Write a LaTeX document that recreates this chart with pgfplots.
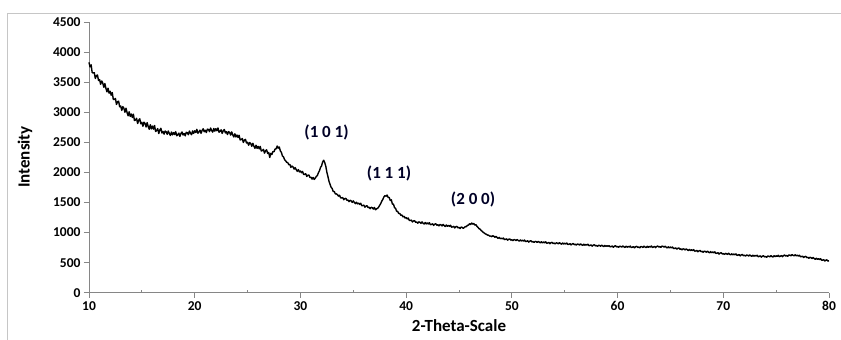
\documentclass[border=0pt]{standalone}
\usepackage{pgfplots}
\pgfplotsset{compat=1.18}
\usepackage{fontspec}
\setmainfont{Carlito}
\definecolor{axgray}{RGB}{134,134,134}
\begin{document}
\begin{tikzpicture}[x=1pt,y=1pt]
\useasboundingbox (0,0) rectangle (841,340);
\draw[gray!45, line width=0.8pt] (7,0) -- (7,327) -- (841,327);
\begin{axis}[
  at={(89pt,47.3pt)}, anchor=south west,
  scale only axis, width=740pt, height=270.4pt,
  xmin=10, xmax=80, ymin=0, ymax=4500,
  axis x line=bottom, axis y line=left,
  axis line style={-, axgray, line width=0.9pt},
  xtick={10,20,...,80}, ytick={0,500,...,4500},
  tick style={axgray, line width=0.9pt},
  major tick length=5pt, tick align=outside,
  extra x ticks={15,25,35,45,55,65,75}, extra x tick labels={},
  extra x tick style={tick align=inside, major tick length=3pt},
  ticklabel style={font=\bfseries\fontsize{13.5}{15}\selectfont, text=black},
  /pgf/number format/assume math mode=true,
  /pgf/number format/1000 sep={},
  scaled ticks=false,
  clip=false,
]
\addplot[black, line width=1.4pt, line join=round] coordinates {
(10.0,3833)(10.1,3757)(10.2,3791)(10.3,3665)(10.4,3655)(10.5,3662)(10.6,3565)(10.7,3611)(10.8,3624)(10.9,3532)
(11.0,3546)(11.1,3468)(11.2,3524)(11.3,3491)(11.4,3419)(11.5,3480)(11.6,3402)(11.7,3342)(11.8,3403)(11.9,3320)
(12.0,3353)(12.1,3287)(12.2,3331)(12.3,3215)(12.4,3215)(12.5,3232)(12.6,3133)(12.7,3177)(12.8,3188)(12.9,3094)
(13.0,3106)(13.1,3034)(13.2,3096)(13.3,3069)(13.4,3003)(13.5,3070)(13.6,2998)(13.7,2944)(13.8,3011)(13.9,2934)
(14.0,2973)(14.1,2917)(14.2,2971)(14.3,2865)(14.4,2875)(14.5,2902)(14.6,2815)(14.7,2871)(14.8,2894)(14.9,2812)
(15.0,2836)(15.1,2770)(15.2,2838)(15.3,2817)(15.4,2757)(15.5,2830)(15.6,2766)(15.7,2720)(15.8,2795)(15.9,2726)
(16.0,2773)(16.1,2723)(16.2,2783)(16.3,2683)(16.4,2699)(16.5,2732)(16.6,2649)(16.7,2709)(16.8,2736)(16.9,2658)
(17.0,2684)(17.1,2639)(17.2,2690)(17.3,2677)(17.4,2636)(17.5,2691)(17.6,2648)(17.7,2617)(17.8,2674)(17.9,2627)
(18.0,2664)(18.1,2632)(18.2,2680)(18.3,2612)(18.4,2628)(18.5,2656)(18.6,2601)(18.7,2650)(18.8,2675)(18.9,2624)
(19.0,2649)(19.1,2611)(19.2,2669)(19.3,2663)(19.4,2629)(19.5,2691)(19.6,2654)(19.7,2629)(19.8,2692)(19.9,2651)
(20.0,2694)(20.1,2666)(20.2,2718)(20.3,2654)(20.4,2674)(20.5,2706)(20.6,2652)(20.7,2702)(20.8,2728)(20.9,2678)
(21.0,2704)(21.1,2665)(21.2,2722)(21.3,2715)(21.4,2680)(21.5,2741)(21.6,2701)(21.7,2673)(21.8,2733)(21.9,2689)
(22.0,2729)(22.1,2695)(22.2,2741)(22.3,2671)(22.4,2685)(22.5,2711)(22.6,2651)(22.7,2695)(22.8,2715)(22.9,2659)
(23.0,2679)(23.1,2632)(23.2,2681)(23.3,2666)(23.4,2623)(23.5,2676)(23.6,2628)(23.7,2592)(23.8,2644)(23.9,2592)
(24.0,2624)(24.1,2582)(24.2,2620)(24.3,2542)(24.4,2548)(24.5,2566)(24.6,2500)(24.7,2538)(24.8,2552)(24.9,2490)
(25.0,2504)(25.1,2454)(25.2,2500)(25.3,2482)(25.4,2436)(25.5,2486)(25.6,2438)(25.7,2402)(25.8,2454)(25.9,2402)
(26.0,2434)(26.1,2394)(26.2,2434)(26.3,2358)(26.4,2366)(26.5,2386)(26.6,2322)(26.7,2362)(26.8,2378)(26.9,2318)
(27.0,2334)(27.1,2250)(27.2,2320)(27.3,2300)(27.4,2350)(27.5,2345)(27.6,2390)(27.7,2395)(27.8,2440)(27.9,2405)
(28.0,2425)(28.1,2360)(28.2,2335)(28.3,2275)(28.4,2260)(28.5,2215)(28.6,2195)(28.7,2170)(28.8,2165)(28.9,2130)
(29.0,2135)(29.1,2086)(29.2,2108)(29.3,2092)(29.4,2057)(29.5,2082)(29.6,2048)(29.7,2020)(29.8,2048)(29.9,2010)
(30.0,2025)(30.1,1997)(30.2,2019)(30.3,1968)(30.4,1970)(30.5,1980)(30.6,1935)(30.7,1955)(30.8,1960)(30.9,1918)
(31.0,1922)(31.1,1891)(31.2,1918)(31.3,1885)(31.4,1905)(31.5,1935)(31.6,1950)(31.7,1995)(31.8,2030)(31.9,2085)
(32.0,2110)(32.1,2175)(32.2,2205)(32.3,2165)(32.4,2105)(32.5,2005)(32.6,1935)(32.7,1855)(32.8,1805)(32.9,1755)
(33.0,1735)(33.1,1685)(33.2,1685)(33.3,1645)(33.4,1645)(33.5,1632)(33.6,1607)(33.7,1622)(33.8,1579)(33.9,1578)
(34.0,1583)(34.1,1548)(34.2,1565)(34.3,1570)(34.4,1537)(34.5,1542)(34.6,1516)(34.7,1538)(34.8,1528)(34.9,1504)
(35.0,1528)(35.1,1502)(35.2,1482)(35.3,1506)(35.4,1478)(35.5,1492)(35.6,1470)(35.7,1488)(35.8,1448)(35.9,1450)
(36.0,1458)(36.1,1424)(36.2,1442)(36.3,1448)(36.4,1416)(36.5,1422)(36.6,1398)(36.7,1422)(36.8,1414)(36.9,1392)
(37.0,1418)(37.1,1380)(37.2,1395)(37.3,1405)(37.4,1425)(37.5,1455)(37.6,1485)(37.7,1525)(37.8,1555)(37.9,1595)
(38.0,1615)(38.1,1605)(38.2,1625)(38.3,1585)(38.4,1585)(38.5,1535)(38.6,1545)(38.7,1475)(38.8,1475)(38.9,1415)
(39.0,1405)(39.1,1355)(39.2,1352)(39.3,1318)(39.4,1318)(39.5,1288)(39.6,1292)(39.7,1262)(39.8,1272)(39.9,1242)
(40.0,1251)(40.1,1228)(40.2,1242)(40.3,1203)(40.4,1203)(40.5,1207)(40.6,1177)(40.7,1194)(40.8,1199)(40.9,1171)
(41.0,1177)(41.1,1156)(41.2,1179)(41.3,1172)(41.4,1154)(41.5,1178)(41.6,1158)(41.7,1143)(41.8,1168)(41.9,1145)
(42.0,1161)(42.1,1144)(42.2,1164)(42.3,1131)(42.4,1137)(42.5,1147)(42.6,1120)(42.7,1140)(42.8,1148)(42.9,1123)
(43.0,1132)(43.1,1112)(43.2,1135)(43.3,1129)(43.4,1111)(43.5,1136)(43.6,1116)(43.7,1102)(43.8,1127)(43.9,1105)
(44.0,1121)(44.1,1104)(44.2,1123)(44.3,1090)(44.4,1095)(44.5,1105)(44.6,1077)(44.7,1097)(44.8,1104)(44.9,1079)
(45.0,1087)(45.1,1068)(45.2,1092)(45.3,1087)(45.4,1070)(45.5,1085)(45.6,1100)(45.7,1098)(45.8,1122)(45.9,1125)
(46.0,1148)(46.1,1135)(46.2,1160)(46.3,1140)(46.4,1152)(46.5,1125)(46.6,1132)(46.7,1104)(46.8,1088)(46.9,1065)
(47.0,1058)(47.1,1034)(47.2,1022)(47.3,1004)(47.4,992)(47.5,978)(47.6,972)(47.7,958)(47.8,957)(47.9,942)
(48.0,944)(48.1,932)(48.2,947)(48.3,939)(48.4,922)(48.5,938)(48.6,919)(48.7,904)(48.8,920)(48.9,899)
(49.0,908)(49.1,895)(49.2,910)(49.3,884)(49.4,888)(49.5,896)(49.6,874)(49.7,889)(49.8,895)(49.9,875)
(50.0,881)(50.1,866)(50.2,884)(50.3,880)(50.4,866)(50.5,885)(50.6,870)(50.7,859)(50.8,878)(50.9,861)
(51.0,873)(51.1,860)(51.2,876)(51.3,851)(51.4,855)(51.5,864)(51.6,842)(51.7,858)(51.8,865)(51.9,844)
(52.0,851)(52.1,836)(52.2,854)(52.3,850)(52.4,836)(52.5,855)(52.6,840)(52.7,829)(52.8,848)(52.9,830)
(53.0,843)(53.1,831)(53.2,847)(53.3,822)(53.4,827)(53.5,836)(53.6,815)(53.7,831)(53.8,838)(53.9,819)
(54.0,826)(54.1,811)(54.2,830)(54.3,826)(54.4,813)(54.5,833)(54.6,818)(54.7,807)(54.8,827)(54.9,810)
(55.0,823)(55.1,811)(55.2,827)(55.3,802)(55.4,807)(55.5,816)(55.6,795)(55.7,811)(55.8,818)(55.9,799)
(56.0,806)(56.1,791)(56.2,810)(56.3,806)(56.4,793)(56.5,813)(56.6,798)(56.7,787)(56.8,807)(56.9,790)
(57.0,803)(57.1,791)(57.2,807)(57.3,782)(57.4,787)(57.5,796)(57.6,775)(57.7,791)(57.8,798)(57.9,779)
(58.0,786)(58.1,771)(58.2,790)(58.3,786)(58.4,773)(58.5,793)(58.6,778)(58.7,767)(58.8,787)(58.9,770)
(59.0,783)(59.1,771)(59.2,784)(59.3,763)(59.4,768)(59.5,777)(59.6,757)(59.7,773)(59.8,783)(59.9,762)
(60.0,769)(60.1,754)(60.2,774)(60.3,770)(60.4,758)(60.5,778)(60.6,764)(60.7,753)(60.8,773)(60.9,757)
(61.0,770)(61.1,759)(61.2,776)(61.3,751)(61.4,757)(61.5,767)(61.6,747)(61.7,764)(61.8,772)(61.9,754)
(62.0,761)(62.1,747)(62.2,767)(62.3,765)(62.4,753)(62.5,774)(62.6,760)(62.7,750)(62.8,772)(62.9,756)
(63.0,770)(63.1,759)(63.2,777)(63.3,753)(63.4,760)(63.5,770)(63.6,750)(63.7,768)(63.8,777)(63.9,760)
(64.0,767)(64.1,754)(64.2,775)(64.3,771)(64.4,758)(64.5,773)(64.6,757)(64.7,745)(64.8,763)(64.9,745)
(65.0,760)(65.1,747)(65.2,761)(65.3,735)(65.4,738)(65.5,746)(65.6,724)(65.7,738)(65.8,744)(65.9,723)
(66.0,729)(66.1,713)(66.2,731)(66.3,725)(66.4,711)(66.5,730)(66.6,714)(66.7,702)(66.8,720)(66.9,702)
(67.0,714)(67.1,701)(67.2,716)(67.3,691)(67.4,695)(67.5,703)(67.6,681)(67.7,696)(67.8,703)(67.9,683)
(68.0,689)(68.1,673)(68.2,691)(68.3,687)(68.4,673)(68.5,692)(68.6,676)(68.7,664)(68.8,684)(68.9,666)
(69.0,678)(69.1,665)(69.2,680)(69.3,654)(69.4,658)(69.5,666)(69.6,642)(69.7,659)(69.8,665)(69.9,645)
(70.0,651)(70.1,636)(70.2,654)(70.3,650)(70.4,636)(70.5,656)(70.6,640)(70.7,629)(70.8,648)(70.9,631)
(71.0,643)(71.1,631)(71.2,646)(71.3,621)(71.4,626)(71.5,635)(71.6,613)(71.7,629)(71.8,636)(71.9,616)
(72.0,623)(72.1,608)(72.2,627)(72.3,623)(72.4,610)(72.5,630)(72.6,615)(72.7,604)(72.8,624)(72.9,607)
(73.0,620)(73.1,608)(73.2,624)(73.3,599)(73.4,604)(73.5,613)(73.6,592)(73.7,608)(73.8,615)(73.9,596)
(74.0,603)(74.1,589)(74.2,610)(74.3,607)(74.4,596)(74.5,617)(74.6,603)(74.7,594)(74.8,615)(74.9,600)
(75.0,614)(75.1,604)(75.2,622)(75.3,600)(75.4,607)(75.5,618)(75.6,599)(75.7,617)(75.8,627)(75.9,610)
(76.0,619)(76.1,606)(76.2,627)(76.3,625)(76.4,613)(76.5,635)(76.6,622)(76.7,613)(76.8,631)(76.9,613)
(77.0,624)(77.1,610)(77.2,624)(77.3,598)(77.4,601)(77.5,608)(77.6,585)(77.7,599)(77.8,605)(77.9,584)
(78.0,589)(78.1,572)(78.2,589)(78.3,583)(78.4,568)(78.5,586)(78.6,569)(78.7,556)(78.8,574)(78.9,555)
(79.0,566)(79.1,552)(79.2,566)(79.3,540)(79.4,543)(79.5,550)(79.6,527)(79.7,541)(79.8,547)(79.9,526)
(80.0,532)
};
\node[font=\bfseries\fontsize{17}{19}\selectfont, text=black!85!blue] at (axis cs:32.47,2662) {(1 0 1)};
\node[font=\bfseries\fontsize{17}{19}\selectfont, text=black!85!blue] at (axis cs:38.38,1987) {(1 1 1)};
\node[font=\bfseries\fontsize{17}{19}\selectfont, text=black!85!blue] at (axis cs:46.33,1554) {(2 0 0)};
\end{axis}
\node[font=\bfseries\fontsize{17}{19}\selectfont] at (459,14) {2-Theta-Scale};
\node[font=\bfseries\fontsize{17}{19}\selectfont, rotate=90] at (25,183) {Intensity};
\end{tikzpicture}
\end{document}
